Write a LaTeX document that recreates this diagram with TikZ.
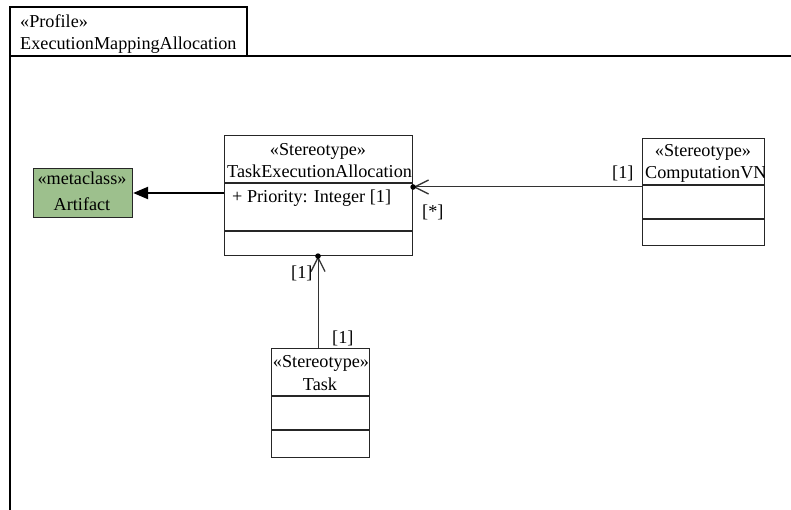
\documentclass[tikz,border=0pt]{standalone}
\usepackage{fontspec}
\setmainfont{Liberation Serif}
\usetikzlibrary{arrows.meta}
\definecolor{metagreen}{RGB}{157,192,141}

\tikzset{
	classbox/.style={draw=black!85, line width=1.1pt, anchor=north west, inner sep=0pt},
	lbl/.style={inner sep=0pt, font=\fontsize{18.2}{21}\selectfont},
	assoc/.style={draw=black!80, line width=1pt, -{Straight Barb[length=14pt,width=14pt,line width=1.3pt]}},
	extend/.style={line width=2.2pt, -{Triangle[length=15pt,width=12pt]}},
}

\begin{document}
\begin{tikzpicture}[x=1pt,y=-1pt]
	\useasboundingbox (0,0) rectangle (791,510);
	% profile frame
	\draw[line width=1.4pt] (10,510) -- (10,7) -- (247,7) -- (247,56);
	\draw[line width=1.4pt] (10,56) -- (791,56);
	\node[lbl,anchor=base west] (prof) at (20,28) {«Profile»};
	\node[lbl,anchor=base west] (profname) at (20,50) {ExecutionMappingAllocation};

	% boxes
	\node[classbox, fill=metagreen, minimum width=99pt, minimum height=49pt] (art) at (33,168) {};
	\node[classbox, minimum width=188pt, minimum height=120pt] (tea) at (224,135) {};
	\node[classbox, minimum width=122pt, minimum height=107pt] (cvn) at (642,138) {};
	\node[classbox, minimum width=98pt, minimum height=109pt] (task) at (271,348) {};
	\draw[black!85, line width=1.1pt] (224,183) -- (412,183) (224,231) -- (412,231);
	\draw[black!85, line width=1.1pt] (642,185) -- (764,185) (642,219) -- (764,219);
	\draw[black!85, line width=1.1pt] (271,396) -- (369,396) (271,430) -- (369,430);

	% texts
	\node[lbl,anchor=base] (artst) at (82,185) {«metaclass»};
	\node[lbl,anchor=base] (artname) at (82,211) {Artifact};
	\begin{scope}
		\clip (224,135) rectangle (412,255);
		\node[lbl,anchor=base] (teast) at (318,156) {«Stereotype»};
		\node[lbl,anchor=base west] (teaname) at (227,178) {TaskExecutionAllocation};
	\end{scope}
	\node[lbl,anchor=base west] (prio) at (232,203) {+ Priority: Integer [1]};
	\begin{scope}
		\clip (642,138) rectangle (764,245);
		\node[lbl,anchor=base] (cvnst) at (703,157) {«Stereotype»};
		\node[lbl,anchor=base west] (cvnname) at (645,179) {ComputationVN};
	\end{scope}
	\begin{scope}
		\clip (271,348) rectangle (369,457);
		\node[lbl,anchor=base] (taskst) at (321,367) {«Stereotype»};
		\node[lbl,anchor=base] (taskname) at (320,390) {Task};
	\end{scope}

	% connectors
	\coordinate (artend) at (224,193);
	\draw[extend] (artend) -- (art.east |- artend);
	\coordinate (cvnend) at (642,187);
	\draw[assoc] (cvnend) -- (tea.east |- cvnend);
	\fill (tea.east |- cvnend) circle (2.8pt);
	\coordinate (taskend) at (318,348);
	\draw[assoc] (taskend) -- (taskend |- tea.south);
	\fill (taskend |- tea.south) circle (2.8pt);

	% multiplicities
	\node[lbl,anchor=base west] (m1) at (612,179) {[1]};
	\node[lbl,anchor=base west] (m2) at (422,218) {[*]};
	\node[lbl,anchor=base west] (m3) at (291,278) {[1]};
	\node[lbl,anchor=base west] (m4) at (332,343) {[1]};
\end{tikzpicture}
\end{document}
